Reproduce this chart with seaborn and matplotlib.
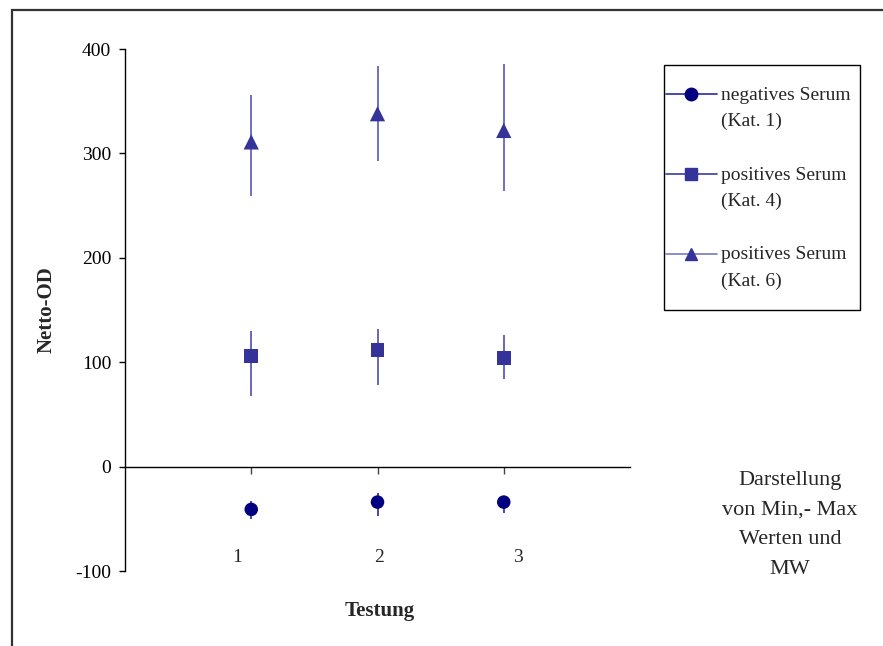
import numpy as np
import pandas as pd
import matplotlib
matplotlib.use("Agg")
import matplotlib.pyplot as plt
import seaborn as sns
from matplotlib.lines import Line2D
from matplotlib.patches import Rectangle
from matplotlib.legend_handler import HandlerLine2D

# ---------------- data ----------------
testung = [1, 2, 3]
x_tick_labels = ["1", "2", "3"]
y_ticks = [-100, 0, 100, 200, 300, 400]
series_names = ["negatives Serum\n(Kat. 1)",
                "positives Serum\n(Kat. 4)",
                "positives Serum\n(Kat. 6)"]

kat1_mw = [-41, -34, -34]
kat1_min = [-50, -47, -44]
kat1_max = [-33, -25, -28]

kat4_mw = [106, 112, 104]
kat4_min = [68, 78, 84]
kat4_max = [130, 132, 126]

kat6_mw = [311, 338, 322]
kat6_min = [259, 293, 264]
kat6_max = [356, 384, 386]

# ---------------- styles ----------------
colors = {series_names[0]: "#000080", series_names[1]: "#333399", series_names[2]: "#333399"}
err_colors = {series_names[0]: "#3a3aa0", series_names[1]: "#5a5ab8", series_names[2]: "#6464c0"}
leg_line_colors = ["#3a3aa8", "#4a4aac", "#8484c8"]
markers = {series_names[0]: "o", series_names[1]: "s", series_names[2]: "^"}
sizes = {series_names[0]: 95, series_names[1]: 100, series_names[2]: 120}
label_offsets = [-0.11, 0.012, 0.11]


class HandlerFirstLine(HandlerLine2D):
    """Line2D legend handler that aligns the handle with the first label line."""

    def __init__(self, shift_em, **kw):
        super().__init__(**kw)
        self.shift_em = shift_em

    def create_artists(self, legend, orig_handle, xdescent, ydescent,
                       width, height, fontsize, trans):
        artists = super().create_artists(legend, orig_handle, xdescent,
                                         ydescent, width, height, fontsize,
                                         trans)
        for a in artists:
            a.set_ydata(np.asarray(a.get_ydata(), float)
                        + self.shift_em * fontsize)
        return artists


frames = []
for name, mw, lo, hi in zip(series_names,
                            [kat1_mw, kat4_mw, kat6_mw],
                            [kat1_min, kat4_min, kat6_min],
                            [kat1_max, kat4_max, kat6_max]):
    frames.append(pd.DataFrame({"Serie": name, "Testung": testung,
                                "MW": mw, "Min": lo, "Max": hi}))
df = pd.concat(frames, ignore_index=True)

sns.set_theme(style="white")
plt.rcParams["font.family"] = ["Liberation Serif", "DejaVu Serif"]

W, H = 883, 646
fig = plt.figure(figsize=(W / 100, H / 100), dpi=100)
ax = fig.add_axes([125 / W, 1 - 571 / H, 505 / W, 522 / H])

# error bars (min-max)
for name in series_names:
    sub = df[df["Serie"] == name]
    ax.vlines(sub["Testung"], sub["Min"], sub["Max"], color=err_colors[name],
              lw=1.3, zorder=2)

sns.scatterplot(data=df, x="Testung", y="MW", hue="Serie", style="Serie",
                size="Serie", sizes=sizes, palette=colors, markers=markers,
                linewidth=0, legend=False, ax=ax, zorder=3)

ax.set_xlim(0, 4)
ax.set_ylim(-100, 400)
ax.set_yticks(y_ticks)
ax.set_yticklabels([str(v) for v in y_ticks], fontsize=14)
ax.set_xticks(testung)
ax.set_xticklabels([])

for s in ["top", "right"]:
    ax.spines[s].set_visible(False)
ax.spines["bottom"].set_position(("data", 0))
for s in ["left", "bottom"]:
    ax.spines[s].set_color("black")
    ax.spines[s].set_linewidth(1.0)
ax.tick_params(axis="y", left=True, length=4, width=1, color="black",
               pad=6, labelcolor="black")
ax.tick_params(axis="x", bottom=True, length=5, width=1, color="#444444",
               direction="out")
ax.grid(False)

for x, lab, off in zip(testung, x_tick_labels, label_offsets):
    ax.text(x + off, -87, lab, ha="center", va="center", fontsize=14)

ax.set_xlabel("Testung", fontsize=15, fontweight="bold")
ax.set_ylabel("Netto-OD", fontsize=15, fontweight="bold")
ax.xaxis.set_label_coords((380 - 125) / 505, (571 - 601) / 522)
ax.yaxis.set_label_coords((57 - 125) / 505, 0.5)

# legend
handles = [Line2D([0], [0], color=c, lw=1.3, marker=markers[n],
                  markerfacecolor=colors[n], markeredgecolor=colors[n],
                  markersize=9)
           for n, c in zip(series_names, leg_line_colors)]
leg = fig.legend(handles, series_names, loc="upper left",
                 bbox_to_anchor=(666 / W, 1 - 87 / H), frameon=False,
                 fontsize=14, handlelength=2.6, handletextpad=0.25,
                 labelspacing=1.88, borderpad=0, borderaxespad=0,
                 handler_map={Line2D: HandlerFirstLine(0.72)})
for t in leg.get_texts():
    t.set_linespacing(1.67)
fig.add_artist(Rectangle((664 / W, 1 - 310 / H), 196 / W, 245 / H,
                         transform=fig.transFigure, fill=False,
                         edgecolor="black", lw=1.0))

fig.text(790 / W, 1 - 525 / H, "Darstellung\nvon Min,- Max\nWerten und\nMW",
         ha="center", va="center", fontsize=16, linespacing=1.74)

# outer chart border (left and top visible)
fig.add_artist(Rectangle((12 / W, -0.5), 2.0, 0.5 + 1 - 10 / H,
                         transform=fig.transFigure, fill=False,
                         edgecolor="#333333", lw=1.6))

fig.savefig("out.png", dpi=100)
